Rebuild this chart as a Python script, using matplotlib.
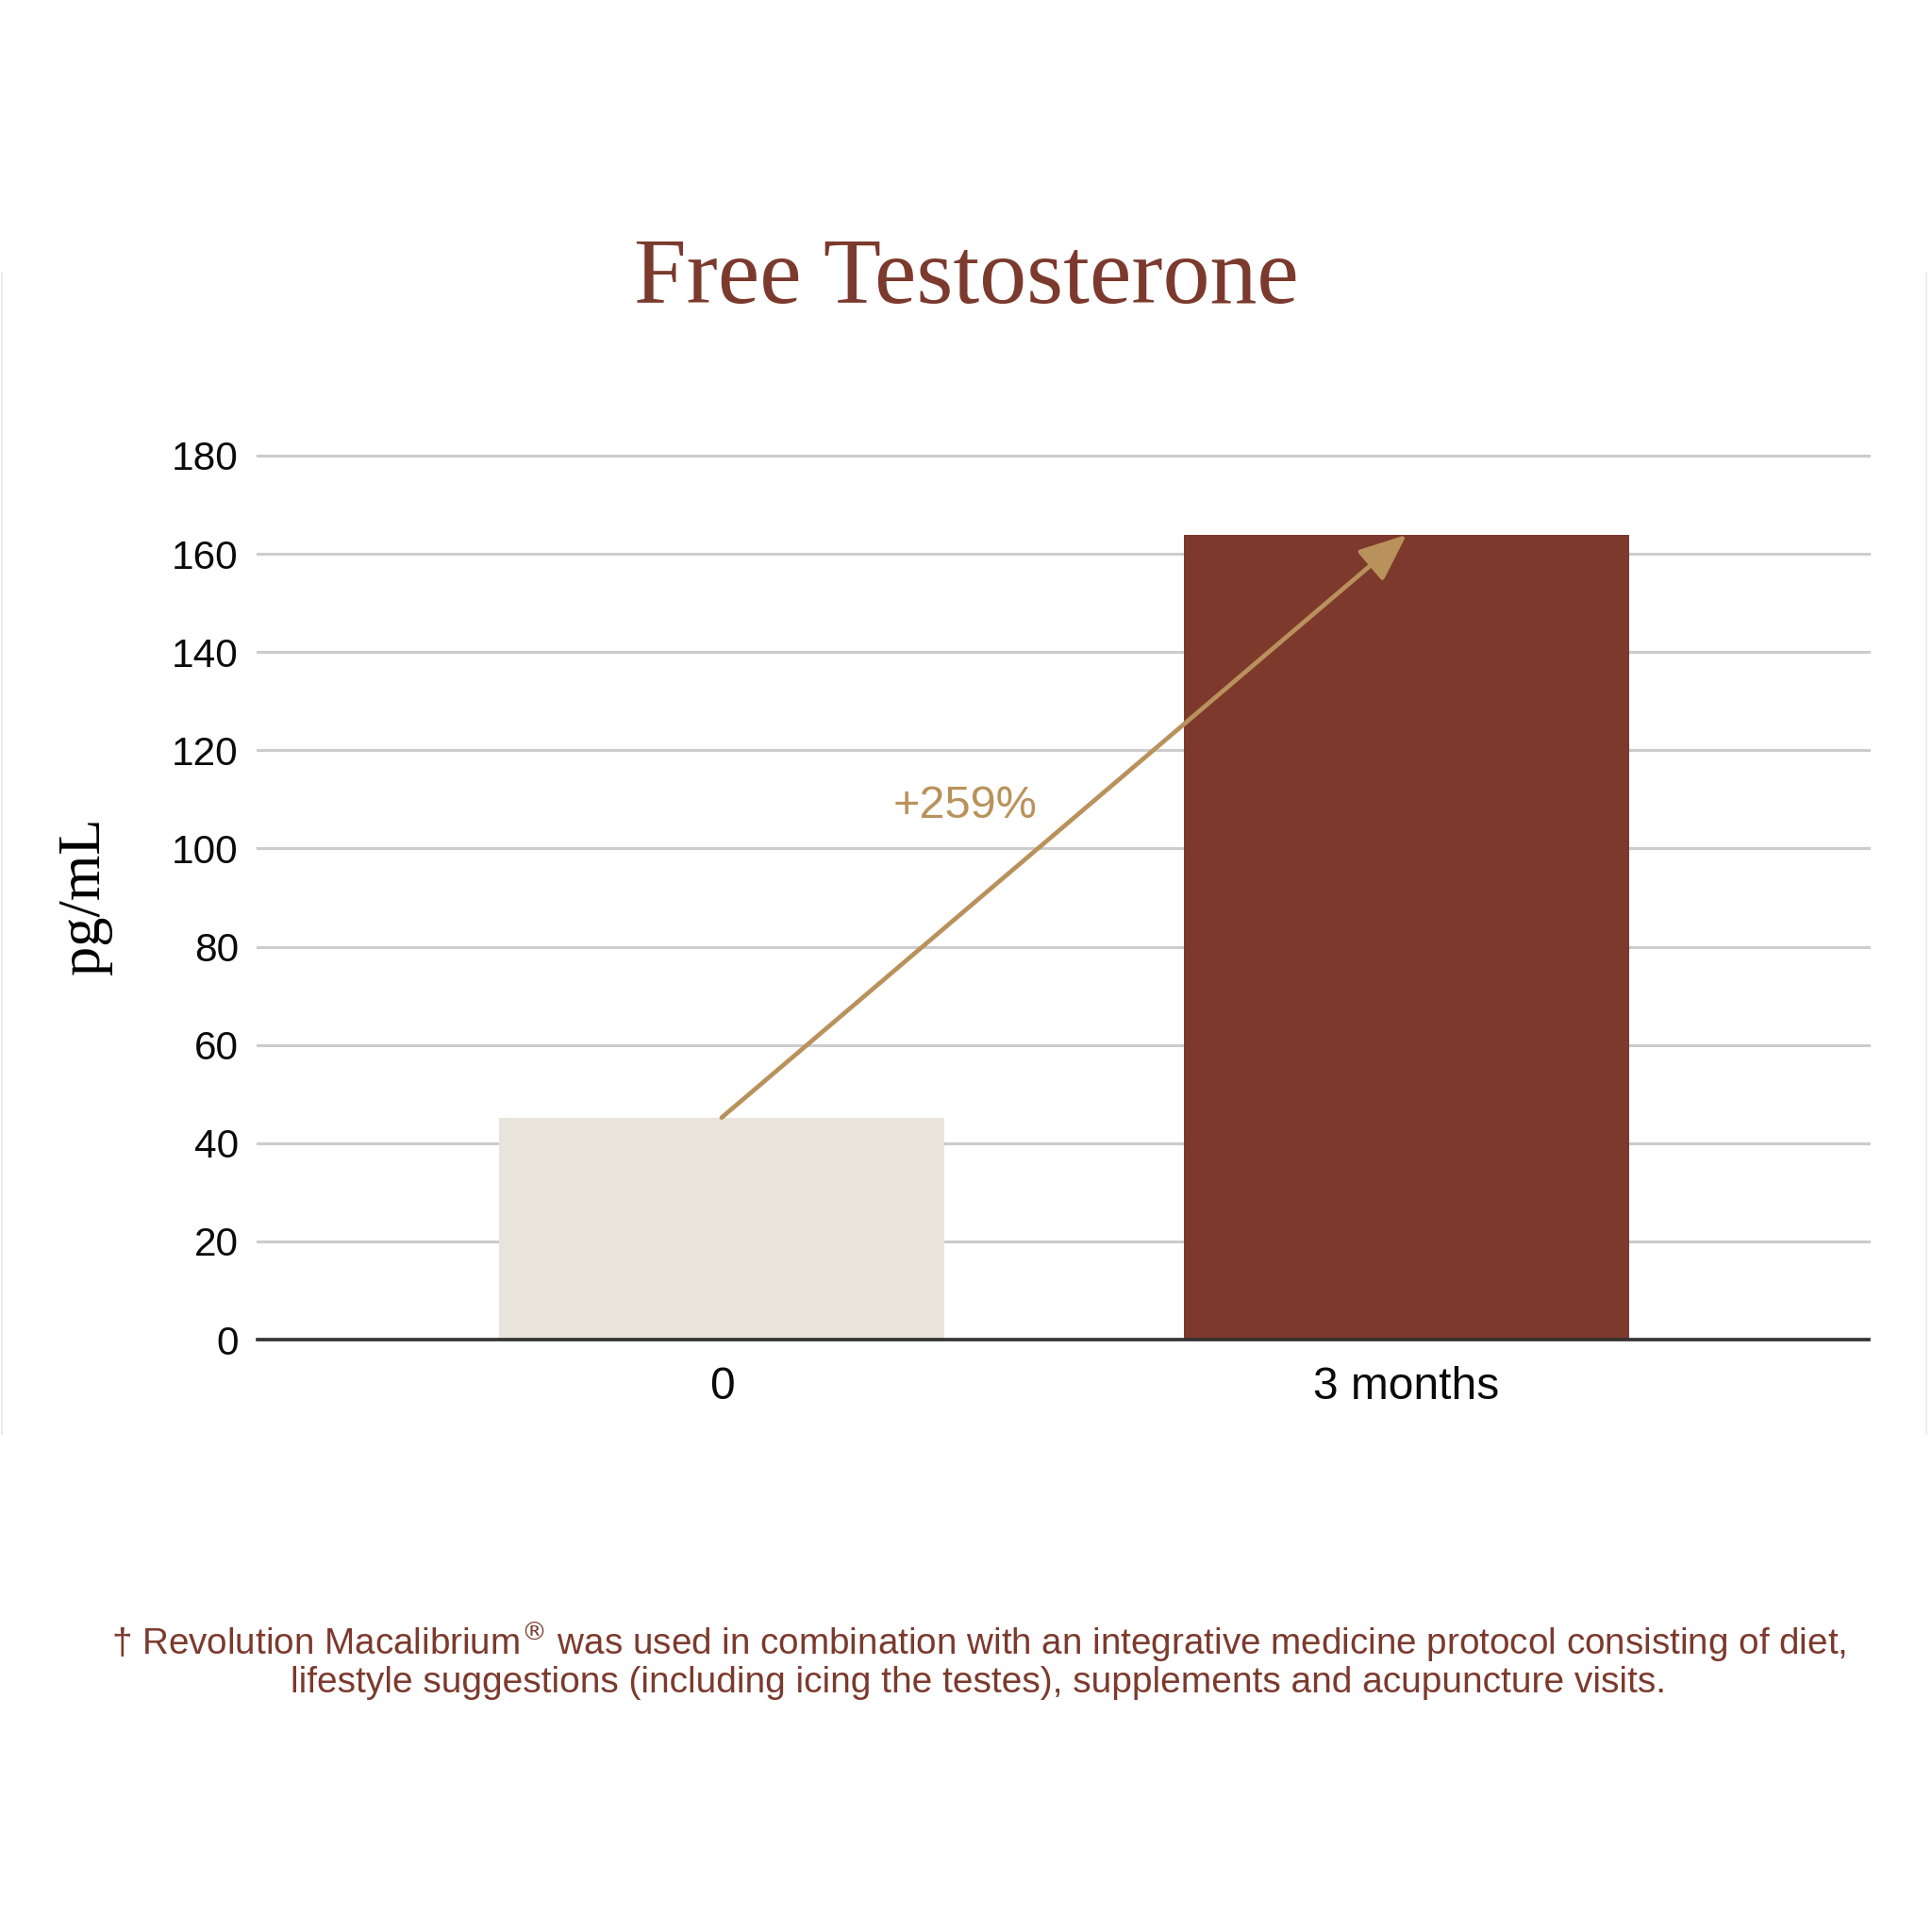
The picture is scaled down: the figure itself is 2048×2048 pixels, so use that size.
import matplotlib
matplotlib.use("Agg")
import matplotlib.pyplot as plt
from matplotlib.lines import Line2D

# ---- data ----
categories = ["0", "3 months"]
values = [45.2, 163.9]
bar_colors = ["#e8e4dc", "#7e392d"]
yticks = [0, 20, 40, 60, 80, 100, 120, 140, 160, 180]
title = "Free Testosterone"
ylabel = "pg/mL"
change_label = "+259%"
footnote_1 = "† Revolution Macalibrium$^{\\circledR}$ was used in combination with an integrative medicine protocol consisting of diet,"
footnote_2 = "lifestyle suggestions (including icing the testes), supplements and acupuncture visits."

BROWN = "#7b3a2d"
TAN = "#b9925b"

W = 2048
fig = plt.figure(figsize=(20.48, 20.48), dpi=100)
fig.patch.set_facecolor("white")

def fx(px):
    return px / W

def fy(py):
    return 1 - py / W

ax = fig.add_axes([fx(273), fy(1420), fx(1981) - fx(273), fy(483) - fy(1420)])
x = list(range(len(categories)))
ax.bar(x, values, width=0.651, color=bar_colors, zorder=2)
ax.set_xlim(-0.6775, 1.6747)
ax.set_ylim(0, 180)
ax.set_yticks(yticks)
ax.set_yticklabels([str(v) for v in yticks], fontfamily="Liberation Sans", fontsize=30.5, color="#0a0a0a")
ax.set_xticks(x)
ax.set_xticklabels(categories, fontfamily="Liberation Sans", fontsize=34.5, color="#0a0a0a")
ax.tick_params(axis="y", length=0, pad=14.5)
ax.tick_params(axis="x", length=0, pad=20)
for s in ax.spines.values():
    s.set_visible(False)
ax.yaxis.grid(True, color="#cccccc", linewidth=2.2)
ax.set_axisbelow(True)
for l in ax.get_ygridlines():
    l.set_clip_on(False)
ax.axhline(0, color="#333333", linewidth=2.6, zorder=3, clip_on=False)

# arrow from bar 1 top to bar 2 top
ax.annotate("", xy=(x[1], values[1]), xytext=(x[0], values[0]),
            arrowprops=dict(arrowstyle="-|>,head_length=31,head_width=13",
                            mutation_scale=1, color=TAN, lw=3.4,
                            shrinkA=0, shrinkB=0), zorder=4)
ax.text(0.355, 108.6, change_label, ha="center", va="center", fontsize=35,
        fontfamily="Liberation Sans", color=TAN, zorder=4)

# title and y label
fig.text(0.5, fy(321), title, ha="center", va="baseline", fontsize=72,
         fontfamily="Liberation Serif", color=BROWN)
fig.text(fx(90.5), fy(950), ylabel, ha="center", va="center", rotation=90,
         fontsize=45, fontfamily="Liberation Serif", color="#000000")

# footnote
fig.text(fx(1037), fy(1741), footnote_1, ha="center", va="center", fontsize=27.8,
         fontfamily="Liberation Sans", color=BROWN)
fig.text(fx(1037), fy(1784), footnote_2, ha="center", va="center", fontsize=28,
         fontfamily="Liberation Sans", color=BROWN)

# faint frame edges
for xp in (2, 2042):
    fig.add_artist(Line2D([fx(xp), fx(xp)], [fy(290), fy(1520)], color="#ededed", lw=1.5))

fig.savefig("out.png", dpi=100, facecolor="white")
